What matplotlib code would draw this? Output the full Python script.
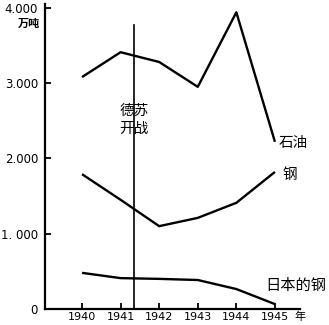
import matplotlib.pyplot as plt
import numpy as np

plt.rcParams['font.family'] = ['Noto Sans CJK SC', 'DejaVu Sans']

years = [1940, 1941, 1942, 1943, 1944, 1945]
oil = [3080, 3410, 3280, 2950, 3940, 2220]
steel = [1790, 1450, 1100, 1210, 1410, 1820]
japan_steel = [480, 410, 400, 385, 265, 65]
war_start = 1941.35
ytick_vals = [0, 1000, 2000, 3000, 4000]
ytick_labels = ['0', '1. 000', '2.000', '3.000', '4.000']

fig = plt.figure(figsize=[3.29, 3.25], dpi=100)
ax = fig.add_axes([45 / 329, 1 - 309 / 325, 255 / 329, 305 / 325])

for s in [oil, steel, japan_steel]:
    ax.plot(years, s, color='black', lw=1.7, solid_capstyle='butt')
ax.axvline(war_start, ymin=0, ymax=0.93, color='black', lw=1.2)

ax.set_xlim(1939.04, 1945.65)
ax.set_ylim(0, 4050)
ax.set_xticks(years)
ax.set_xticklabels([str(y) for y in years], fontsize=8, family='DejaVu Sans')
ax.set_yticks(ytick_vals)
ax.set_yticklabels(ytick_labels, fontsize=8.5, family='DejaVu Sans')
ax.tick_params(direction='in', length=4, width=1.3)
ax.tick_params(axis='x', pad=2)
ax.tick_params(axis='y', pad=5)
for side in ['top', 'right']:
    ax.spines[side].set_visible(False)
for side in ['left', 'bottom']:
    ax.spines[side].set_linewidth(1.6)

ax.text(-0.02, 0.935, '万吨', transform=ax.transAxes, fontsize=8, ha='right', va='center',
        fontweight='bold')
ax.annotate('年', xy=(1945.5, 0), xytext=(0, -2), textcoords='offset points',
            fontsize=8, ha='left', va='top', annotation_clip=False)
ax.text(war_start, 2510, '德苏\n开战', fontsize=10.5, ha='center', va='center', linespacing=1.35)
ax.text(1945.1, 2200, '石油', fontsize=10.5, ha='left', va='center')
ax.text(1945.2, 1780, '钢', fontsize=10.5, ha='left', va='center')
ax.text(1945.55, 310, '日本的钢', fontsize=11, ha='center', va='center', clip_on=False)

fig.savefig('out.png', dpi=100)
